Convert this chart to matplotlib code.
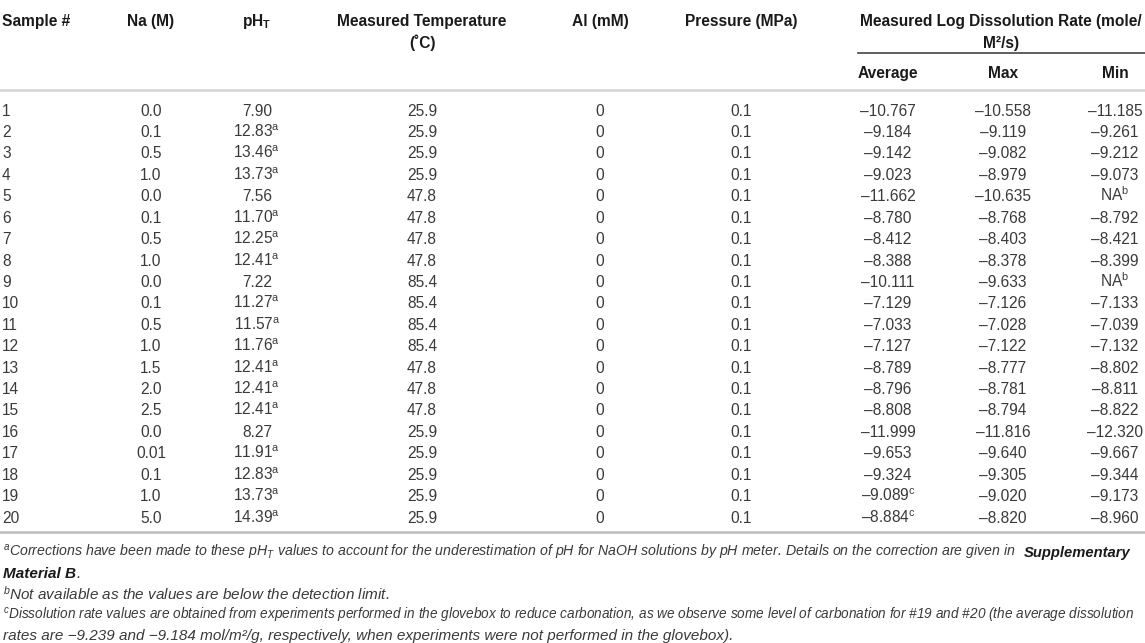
import matplotlib
matplotlib.use("Agg")
import matplotlib.pyplot as plt

plt.rcParams['font.family'] = ['Liberation Sans', 'DejaVu Sans']
plt.rcParams['mathtext.fontset'] = 'custom'
plt.rcParams['mathtext.rm'] = 'Liberation Sans'
plt.rcParams['mathtext.it'] = 'Liberation Sans:italic'
plt.rcParams['mathtext.sf'] = 'Liberation Sans:bold'
plt.rcParams['mathtext.bf'] = 'Liberation Sans:bold:italic'

samples = [str(i) for i in range(1, 21)]
na = ["0.0", "0.1", "0.5", "1.0", "0.0", "0.1", "0.5", "1.0", "0.0", "0.1",
      "0.5", "1.0", "1.5", "2.0", "2.5", "0.0", "0.01", "0.1", "1.0", "5.0"]
ph = ["7.90", "12.83", "13.46", "13.73", "7.56", "11.70", "12.25", "12.41", "7.22", "11.27",
      "11.57", "11.76", "12.41", "12.41", "12.41", "8.27", "11.91", "12.83", "13.73", "14.39"]
ph_note = ["", "a", "a", "a", "", "a", "a", "a", "", "a",
           "a", "a", "a", "a", "a", "", "a", "a", "a", "a"]
temp = ["25.9"] * 4 + ["47.8"] * 4 + ["85.4"] * 4 + ["47.8"] * 3 + ["25.9"] * 5
al = ["0"] * 20
pressure = ["0.1"] * 20
rate_avg = [-10.767, -9.184, -9.142, -9.023, -11.662, -8.780, -8.412, -8.388, -10.111, -7.129,
            -7.033, -7.127, -8.789, -8.796, -8.808, -11.999, -9.653, -9.324, -9.089, -8.884]
avg_note = [""] * 18 + ["c", "c"]
rate_max = [-10.558, -9.119, -9.082, -8.979, -10.635, -8.768, -8.403, -8.378, -9.633, -7.126,
            -7.028, -7.122, -8.777, -8.781, -8.794, -11.816, -9.640, -9.305, -9.020, -8.820]
rate_min = [-11.185, -9.261, -9.212, -9.073, None, -8.792, -8.421, -8.399, None, -7.133,
            -7.039, -7.132, -8.802, -8.811, -8.822, -12.320, -9.667, -9.344, -9.173, -8.960]

headers = [["Sample #"], ["Na (M)"], ["pH$_\\mathsf{T}$"],
           ["Measured Temperature", "(\u02daC)"], ["Al (mM)"], ["Pressure (MPa)"]]
group_header = ["Measured Log Dissolution Rate (mole/", "M\u00b2/s)"]
sub_headers = ["Average", "Max", "Min"]

W, H = 1145, 643
fig = plt.figure(figsize=(W / 100, H / 100), dpi=100)
ax = fig.add_axes([0, 0, 1, 1])
ax.set_xlim(0, W)
ax.set_ylim(H, 0)
ax.axis('off')

FS = 11.2
body = '#3a3a3a'
head = '#1a1a1a'
OFF = 5.6  # baseline offset from the visual centre of digits


def fmt(v):
    return '\u2013' + f'{abs(v):.3f}'


def sup(s, note):
    return s + ('$^{\\mathrm{' + note + '}}$' if note else '')


# header
col_x = [2, 151, 257, 422, 600, 741]
ha = ['left', 'center', 'center', 'center', 'center', 'center']
for x, lines, a in zip(col_x, headers, ha):
    for k, h in enumerate(lines):
        ax.text(x, 20 + 22 * k + OFF, h, ha=a, va='baseline', fontsize=FS,
                fontweight='bold', color=head)
for k, h in enumerate(group_header):
    ax.text(1001, 20 + 22 * k + OFF, h, ha='center', va='baseline', fontsize=FS,
            fontweight='bold', color=head)
ax.plot([858, W], [53, 53], color='#444444', lw=1.2)
rate_x = [888, 1003, 1115]
for x, h in zip(rate_x, sub_headers):
    ax.text(x, 72 + OFF, h, ha='center', va='baseline', fontsize=FS,
            fontweight='bold', color=head)
ax.plot([0, W], [90, 90], color='#d4d4d4', lw=1.8)

# rows
for i in range(20):
    y = 110 + i * 21.42 + OFF
    mn = sup('NA', 'b') if rate_min[i] is None else fmt(rate_min[i])
    cells = [samples[i], na[i], sup(ph[i], ph_note[i]), temp[i], al[i], pressure[i]]
    for x, c, a in zip(col_x, cells, ha):
        ax.text(x, y, c, ha=a, va='baseline', fontsize=FS, color=body)
    for x, c in zip(rate_x, [sup(fmt(rate_avg[i]), avg_note[i]), fmt(rate_max[i]), mn]):
        ax.text(x, y, c, ha='center', va='baseline', fontsize=FS, color=body)
ax.plot([0, W], [532, 532], color='#bdbdbd', lw=1.8)

# footnotes: (text, y centre, right edge to fit to or None)
FN = 11
foot = [
    ("$^{a}$Corrections have been made to these pH$_{T}$ values to account for the "
     "underestimation of pH for NaOH solutions by pH meter. Details on the correction are given in",
     552, 1014),
    ("$^{b}$Not available as the values are below the detection limit.", 595, None),
    ("$^{c}$Dissolution rate values are obtained from experiments performed in the glovebox to "
     "reduce carbonation, as we observe some level of carbonation for #19 and #20 (the average dissolution",
     615, 1131),
    ("rates are \u22129.239 and \u22129.184 mol/m\u00b2/g, respectively, when experiments were "
     "not performed in the glovebox).", 635, None),
]
renderer = fig.canvas.get_renderer()
for s, y, right in foot:
    t = ax.text(3, y + 5, s, ha='left', va='baseline', fontsize=FN,
                style='italic', color=body)
    if right is not None:
        w = t.get_window_extent(renderer).width
        t.set_fontsize(FN * (right - 3) / w)
ax.text(1131, 557, "Supplementary", ha='right', va='baseline', fontsize=10.6,
        style='italic', fontweight='bold', color=head)
mb = ax.text(3, 578, "Material B", ha='left', va='baseline', fontsize=FN,
             style='italic', fontweight='bold', color=head)
mb_right = mb.get_window_extent(renderer).x1
ax.text(mb_right + 0.5, 578, ".", ha='left', va='baseline', fontsize=FN,
        style='italic', color=body)

fig.savefig('out.png', dpi=100)
